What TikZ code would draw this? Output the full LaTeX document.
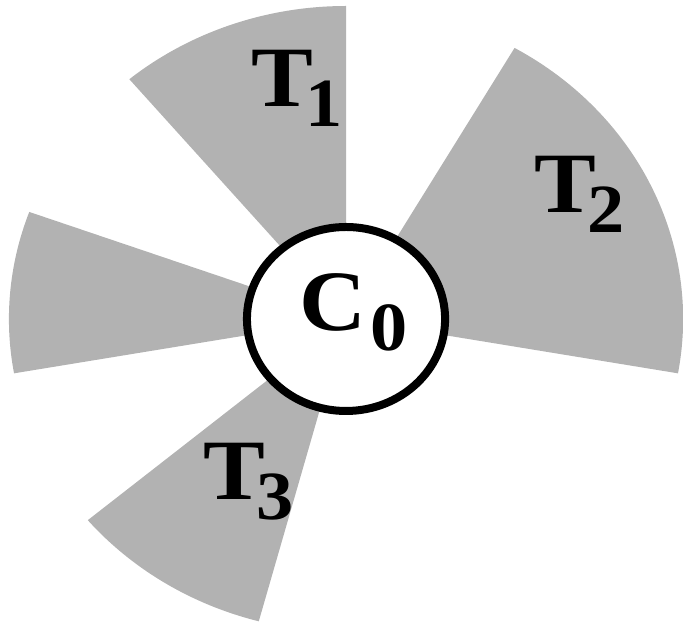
\documentclass[tikz,border=0pt]{standalone}
\usepackage{fontspec}
\setmainfont{Liberation Serif}
\usepackage{xcolor}
\definecolor{sectorgray}{gray}{0.7}

\newcommand{\sublab}[3]{#1\kern#3\raisebox{-20pt}{\fontsize{69}{69}\selectfont #2}}

\begin{document}
\begin{tikzpicture}[
    x=1pt, y=1pt, xscale=1.077, transform shape,
    sector/.style={fill=sectorgray},
    hub/.style={circle, draw, fill=white, line width=8pt,
      minimum size=184pt, inner sep=0pt},
    lab/.style={anchor=base west, inner sep=0pt,
      font=\fontsize{86}{86}\selectfont\bfseries},
  ]
    \useasboundingbox (-321.3,-307) rectangle (312.9,319);

    % Sectors
    \fill[sector] (0,0) -- (90:313) arc[start angle=90, end angle=130, radius=313] -- cycle;
    \fill[sector] (0,0) -- (-10:313) arc[start angle=-10, end angle=60, radius=313] -- cycle;
    \fill[sector] (0,0) -- (160:313) arc[start angle=160, end angle=190, radius=313] -- cycle;
    \fill[sector] (0,0) -- (220:313) arc[start angle=220, end angle=255, radius=313] -- cycle;

    % Centre
    \node[hub] (c0) at (0,0) {};
    \node[lab] (c0lab) at (-43.6,-12) {\sublab{C}{0}{4pt}};

    % Labels
    \node[lab] (t1) at (-88,212) {\sublab{T}{1}{-7pt}};
    \node[lab] (t2) at (175,106) {\sublab{T}{2}{-8pt}};
    \node[lab] (t3) at (-133,-181) {\sublab{T}{3}{-8pt}};
\end{tikzpicture}
\end{document}
